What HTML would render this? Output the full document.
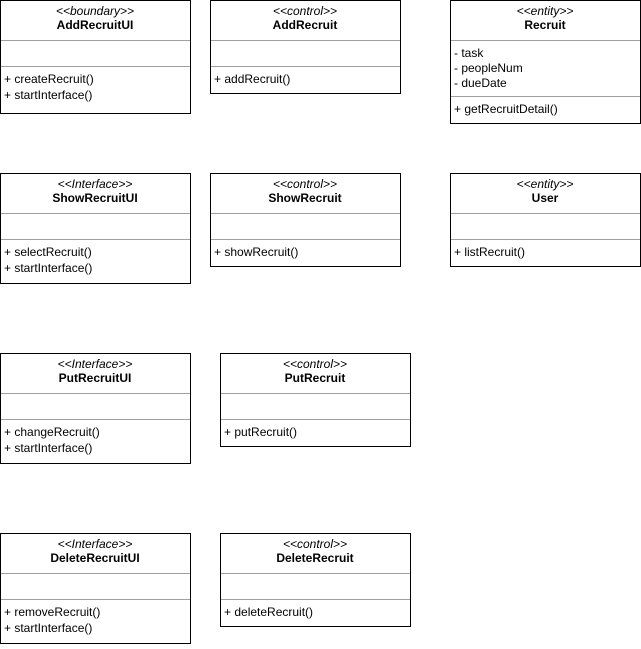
<!DOCTYPE html>
<html><head><style>body{margin:0;background:#fff}svg text{font-family:"Liberation Sans",Arial,sans-serif;font-size:12px;fill:#000}</style></head>
<body>
<svg width="641" height="644" xmlns="http://www.w3.org/2000/svg">
<g fill="#fff" stroke="#000" stroke-width="1">
<rect x="0.5" y="0.5" width="190" height="113"/>
<rect x="210.5" y="0.5" width="190" height="93"/>
<rect x="450.5" y="0.5" width="190" height="123"/>
<rect x="0.5" y="173.5" width="190" height="110"/>
<rect x="210.5" y="173.5" width="190" height="93"/>
<rect x="450.5" y="173.5" width="190" height="93"/>
<rect x="0.5" y="353.5" width="190" height="110"/>
<rect x="220.5" y="353.5" width="190" height="93"/>
<rect x="0.5" y="533.5" width="190" height="110"/>
<rect x="220.5" y="533.5" width="190" height="93"/>
</g>
<g stroke="#a0a0a0" stroke-width="1">
<line x1="1" y1="40.5" x2="190" y2="40.5"/><line x1="1" y1="66.5" x2="190" y2="66.5"/>
<line x1="211" y1="40.5" x2="400" y2="40.5"/><line x1="211" y1="66.5" x2="400" y2="66.5"/>
<line x1="451" y1="40.5" x2="640" y2="40.5"/><line x1="451" y1="96.5" x2="640" y2="96.5"/>
<line x1="1" y1="213.5" x2="190" y2="213.5"/><line x1="1" y1="239.5" x2="190" y2="239.5"/>
<line x1="211" y1="213.5" x2="400" y2="213.5"/><line x1="211" y1="239.5" x2="400" y2="239.5"/>
<line x1="451" y1="213.5" x2="640" y2="213.5"/><line x1="451" y1="239.5" x2="640" y2="239.5"/>
<line x1="1" y1="393.5" x2="190" y2="393.5"/><line x1="1" y1="419.5" x2="190" y2="419.5"/>
<line x1="221" y1="393.5" x2="410" y2="393.5"/><line x1="221" y1="419.5" x2="410" y2="419.5"/>
<line x1="1" y1="573.5" x2="190" y2="573.5"/><line x1="1" y1="599.5" x2="190" y2="599.5"/>
<line x1="221" y1="573.5" x2="410" y2="573.5"/><line x1="221" y1="599.5" x2="410" y2="599.5"/>
</g>
<g text-anchor="middle">
<text x="95" y="15" font-style="italic">&lt;&lt;boundary&gt;&gt;</text><text x="95" y="29" font-weight="bold">AddRecruitUI</text>
<text x="305" y="15" font-style="italic">&lt;&lt;control&gt;&gt;</text><text x="305" y="29" font-weight="bold">AddRecruit</text>
<text x="545" y="15" font-style="italic">&lt;&lt;entity&gt;&gt;</text><text x="545" y="29" font-weight="bold">Recruit</text>
<text x="95" y="188" font-style="italic">&lt;&lt;Interface&gt;&gt;</text><text x="95" y="202" font-weight="bold">ShowRecruitUI</text>
<text x="305" y="188" font-style="italic">&lt;&lt;control&gt;&gt;</text><text x="305" y="202" font-weight="bold">ShowRecruit</text>
<text x="545" y="188" font-style="italic">&lt;&lt;entity&gt;&gt;</text><text x="545" y="202" font-weight="bold">User</text>
<text x="95" y="368" font-style="italic">&lt;&lt;Interface&gt;&gt;</text><text x="95" y="382" font-weight="bold">PutRecruitUI</text>
<text x="315" y="368" font-style="italic">&lt;&lt;control&gt;&gt;</text><text x="315" y="382" font-weight="bold">PutRecruit</text>
<text x="95" y="548" font-style="italic">&lt;&lt;Interface&gt;&gt;</text><text x="95" y="562" font-weight="bold">DeleteRecruitUI</text>
<text x="315" y="548" font-style="italic">&lt;&lt;control&gt;&gt;</text><text x="315" y="562" font-weight="bold">DeleteRecruit</text>
</g>
<g>
<text x="4" y="83">+ createRecruit()</text><text x="4" y="99">+ startInterface()</text>
<text x="214" y="83">+ addRecruit()</text>
<text x="454" y="57">- task</text><text x="454" y="72">- peopleNum</text><text x="454" y="87">- dueDate</text>
<text x="454" y="113">+ getRecruitDetail()</text>
<text x="4" y="256">+ selectRecruit()</text><text x="4" y="272">+ startInterface()</text>
<text x="214" y="256">+ showRecruit()</text>
<text x="454" y="256">+ listRecruit()</text>
<text x="4" y="436">+ changeRecruit()</text><text x="4" y="452">+ startInterface()</text>
<text x="224" y="436">+ putRecruit()</text>
<text x="4" y="616">+ removeRecruit()</text><text x="4" y="632">+ startInterface()</text>
<text x="224" y="616">+ deleteRecruit()</text>
</g>
</svg>
</body></html>
